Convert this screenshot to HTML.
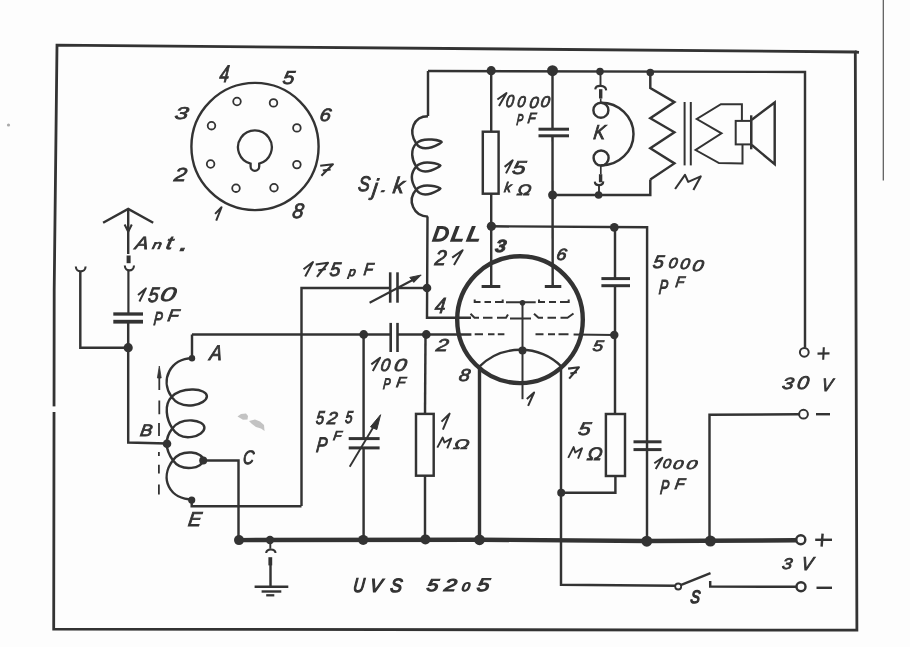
<!DOCTYPE html>
<html><head><meta charset="utf-8"><style>
html,body{margin:0;padding:0;background:#fdfdfd;}
svg{display:block;will-change:transform;}
text{font-family:"Liberation Sans",sans-serif;font-style:italic;fill:#333;stroke:#333;}
</style></head><body>
<svg width="910" height="647" viewBox="0 0 910 647">
<rect width="910" height="647" fill="#fdfdfd"/>
<polygon points="57.0,45.1 855.3,52.0 856.9,630.2 53.7,629.2 54.2,290.0" fill="none" stroke="#333" stroke-width="2.8" stroke-linejoin="miter"/>
<line x1="855" y1="52" x2="859" y2="52.3" stroke="#333" stroke-width="2.8" stroke-linecap="butt"/>
<rect x="50" y="406.4" width="8" height="5.6" fill="#fdfdfd"/>
<path d="M 237.5,416.5 L 241,414 L 246,413.5 L 248,416 L 247.5,419.5 L 243,419.8 Z" fill="#8a8a8a" opacity="0.5"/>
<path d="M 249,421 L 255,419.5 L 260,421.5 L 264,425 L 264.5,431 L 261,428.5 L 256,427 L 252,424 Z" fill="#8a8a8a" opacity="0.5"/>
<circle cx="8.5" cy="125" r="1.6" fill="#aaa"/>
<line x1="883.3" y1="0" x2="883.3" y2="180.6" stroke="#555" stroke-width="1.2" stroke-linecap="butt"/>
<polyline points="428.0,71.0 805.0,72.0 805.0,347.8" fill="none" stroke="#333" stroke-width="2.45" stroke-linejoin="miter"/>
<line x1="428" y1="71" x2="428" y2="116" stroke="#333" stroke-width="2.45" stroke-linecap="butt"/>
<path d="M 428.00,116.20 C 413.40,116.20 408.02,131.41 416.20,143.50 C 423.85,154.80 441.70,142.80 441.70,142.00 C 441.70,141.20 423.85,135.80 416.20,143.50 C 410.21,149.53 411.50,159.51 416.20,166.60 C 423.49,177.60 440.50,166.30 440.50,165.50 C 440.50,164.70 423.49,158.50 416.20,166.60 C 410.05,173.44 411.12,181.93 416.20,189.60 C 423.49,200.60 440.50,189.30 440.50,188.50 C 440.50,187.70 423.49,181.50 416.20,189.60 C 406.57,200.30 413.60,216.60 428.00,216.60" fill="none" stroke="#333" stroke-width="2.45" stroke-linecap="butt"/>
<polyline points="427.5,216.5 427.0,317.7 471.0,317.7" fill="none" stroke="#333" stroke-width="2.45" stroke-linejoin="miter"/>
<circle cx="427" cy="288" r="4.3" fill="#333"/>
<polyline points="301.5,506.0 301.5,288.0 390.2,288.0" fill="none" stroke="#333" stroke-width="2.45" stroke-linejoin="miter"/>
<line x1="397.5" y1="288" x2="427" y2="288" stroke="#333" stroke-width="2.45" stroke-linecap="butt"/>
<line x1="390.2" y1="272.3" x2="390.2" y2="302.7" stroke="#333" stroke-width="2.6" stroke-linecap="butt"/>
<line x1="397.5" y1="272.3" x2="397.5" y2="302.7" stroke="#333" stroke-width="2.6" stroke-linecap="butt"/>
<line x1="369.6" y1="302.7" x2="416" y2="278.2" stroke="#333" stroke-width="2.1" stroke-linecap="butt"/>
<path d="M 421.2,275 L 409.8,277.4 L 413.8,282.4 Z" fill="#333" stroke="#333" stroke-width="1" stroke-linecap="butt"/>
<circle cx="491.2" cy="70.7" r="4.6" fill="#333"/>
<line x1="491.2" y1="70.7" x2="491.2" y2="131.7" stroke="#333" stroke-width="2.45" stroke-linecap="butt"/>
<rect x="482.8" y="131.7" width="15.800000000000011" height="62.0" fill="none" stroke="#333" stroke-width="2.45"/>
<line x1="491.2" y1="193.7" x2="491.2" y2="226.3" stroke="#333" stroke-width="2.45" stroke-linecap="butt"/>
<circle cx="491.4" cy="226.3" r="4.6" fill="#333"/>
<polyline points="491.4,226.3 647.1,227.2 647.0,540.5" fill="none" stroke="#333" stroke-width="2.45" stroke-linejoin="miter"/>
<circle cx="614.3" cy="227.3" r="4.4" fill="#333"/>
<line x1="633.5" y1="441.8" x2="661.5" y2="441.8" stroke="#333" stroke-width="3.0" stroke-linecap="butt"/>
<line x1="633.5" y1="449.6" x2="661.5" y2="449.6" stroke="#333" stroke-width="3.0" stroke-linecap="butt"/>
<line x1="491.2" y1="226.3" x2="491.2" y2="286.5" stroke="#333" stroke-width="2.45" stroke-linecap="butt"/>
<line x1="481.6" y1="286.5" x2="500.3" y2="286.5" stroke="#333" stroke-width="3.0" stroke-linecap="butt"/>
<circle cx="552.5" cy="70.7" r="5.5" fill="#333"/>
<line x1="552.5" y1="70.7" x2="552.5" y2="129.2" stroke="#333" stroke-width="2.45" stroke-linecap="butt"/>
<line x1="538.5" y1="129.2" x2="569" y2="129.2" stroke="#333" stroke-width="3.0" stroke-linecap="butt"/>
<line x1="538.5" y1="135.8" x2="569" y2="135.8" stroke="#333" stroke-width="3.0" stroke-linecap="butt"/>
<line x1="552.5" y1="135.8" x2="552.7" y2="286.5" stroke="#333" stroke-width="2.45" stroke-linecap="butt"/>
<line x1="544.8" y1="286.5" x2="561.3" y2="286.5" stroke="#333" stroke-width="3.0" stroke-linecap="butt"/>
<circle cx="552.6" cy="195" r="4.5" fill="#333"/>
<polyline points="552.6,195.0 650.3,195.0 650.3,179.5" fill="none" stroke="#333" stroke-width="2.45" stroke-linejoin="miter"/>
<circle cx="600" cy="71.6" r="3.8" fill="#333"/>
<line x1="600.5" y1="71.6" x2="600.5" y2="85.5" stroke="#333" stroke-width="1.9" stroke-linecap="butt"/>
<path d="M 595.2,89.3 C 595.8,84.6 605.6,84.6 606.2,90.3" fill="none" stroke="#333" stroke-width="2.1" stroke-linecap="butt"/>
<line x1="600.7" y1="89.2" x2="600.7" y2="98.5" stroke="#333" stroke-width="3.4" stroke-linecap="butt"/>
<line x1="600.7" y1="98.5" x2="600.7" y2="102.7" stroke="#333" stroke-width="1.6" stroke-linecap="butt"/>
<circle cx="600.9" cy="110.2" r="7.5" fill="none" stroke="#333" stroke-width="2.45"/>
<path d="M 600.9,102.7 A 32.5,31.4 0 0 1 601.1,165.5" fill="none" stroke="#333" stroke-width="2.45" stroke-linecap="butt"/>
<circle cx="601.1" cy="158" r="7.5" fill="none" stroke="#333" stroke-width="2.45"/>
<line x1="600.8" y1="165.5" x2="600.8" y2="174.2" stroke="#333" stroke-width="1.7" stroke-linecap="butt"/>
<line x1="600.6" y1="174.2" x2="600.6" y2="182.3" stroke="#333" stroke-width="3.4" stroke-linecap="butt"/>
<path d="M 594.8,181.6 C 595,186.3 603.1,186.3 603.3,181.4" fill="none" stroke="#333" stroke-width="2.1" stroke-linecap="butt"/>
<line x1="599" y1="184.8" x2="599" y2="195" stroke="#333" stroke-width="1.9" stroke-linecap="butt"/>
<circle cx="598.6" cy="195" r="3.8" fill="#333"/>
<circle cx="650.3" cy="72.5" r="3.8" fill="#333"/>
<polyline points="650.3,72.5 650.3,88.0 674.4,102.1 650.3,118.2 674.4,132.3 650.3,148.3 674.4,163.4 650.3,179.5" fill="none" stroke="#333" stroke-width="2.45" stroke-linejoin="miter"/>
<line x1="684.6" y1="102" x2="684.6" y2="165.4" stroke="#333" stroke-width="2.0" stroke-linecap="butt"/>
<line x1="690.8" y1="102" x2="690.8" y2="165.4" stroke="#333" stroke-width="2.0" stroke-linecap="butt"/>
<polyline points="741.9,120.3 741.9,104.2 720.9,104.2 696.8,119.0 721.5,133.3 695.6,150.0 719.0,163.0 742.5,163.5 742.5,144.4" fill="none" stroke="#333" stroke-width="2.0" stroke-linejoin="miter"/>
<rect x="735.7" y="120.9" width="15.5" height="23.5" fill="none" stroke="#333" stroke-width="2.0"/>
<line x1="751.2" y1="115.3" x2="751.2" y2="149.3" stroke="#333" stroke-width="2.45" stroke-linecap="butt"/>
<polyline points="751.8,119.7 774.7,102.4 774.7,164.2 751.8,145.0" fill="none" stroke="#333" stroke-width="2.45" stroke-linejoin="miter"/>
<circle cx="804.3" cy="352.3" r="4.4" fill="none" stroke="#333" stroke-width="2.0"/>
<circle cx="803.5" cy="414.2" r="4.4" fill="none" stroke="#333" stroke-width="2.0"/>
<polyline points="799.0,414.2 709.5,414.8 709.5,540.5" fill="none" stroke="#333" stroke-width="2.45" stroke-linejoin="miter"/>
<ellipse cx="520" cy="319.7" rx="62.8" ry="63.4" fill="none" stroke="#333" stroke-width="4.4"/>
<path d="M 474.7,299.5 L 474.7,302.1 L 480.5,302.1 M 484.5,302.1 L 491,302.1 M 495,302.1 L 502.7,302.1 L 502.7,299.5 M 506,302.3 L 535.7,302.3 M 539,299.5 L 539,302.1 L 545,302.1 M 549,302.1 L 556,302.1 M 560,302.1 L 568.7,302.1 L 568.7,299.5" fill="none" stroke="#333" stroke-width="2.0" stroke-linecap="butt"/>
<circle cx="522.5" cy="302.8" r="2.8" fill="#333"/>
<path d="M 470.5,313.7 L 474.5,317.8 L 479,317.8 M 483,317.8 L 492.5,317.8 M 497,317.8 L 506,317.8 L 508,314.5 M 510,318.6 L 531,318.6 M 534,313.7 L 538.5,317.8 L 543,317.8 M 547.5,317.8 L 556,317.8 M 560.5,317.8 L 567.5,317.8 L 573.5,313.5" fill="none" stroke="#333" stroke-width="2.0" stroke-linecap="butt"/>
<polyline points="192.0,334.5 390.7,334.5" fill="none" stroke="#333" stroke-width="2.45" stroke-linejoin="miter"/>
<line x1="397.5" y1="334.5" x2="471.4" y2="334.4" stroke="#333" stroke-width="2.45" stroke-linecap="butt"/>
<path d="M 474.7,334.3 L 483,334.3 M 488,334.3 L 494.5,334.3 M 497.8,334.3 L 504.4,334.3 M 535.5,334.3 L 543.5,334.3 M 548,334.3 L 555,334.3 M 558.5,334.3 L 568.5,334.3 M 573.6,334.4 L 614.3,335" fill="none" stroke="#333" stroke-width="2.0" stroke-linecap="butt"/>
<circle cx="614.3" cy="335" r="4.2" fill="#333"/>
<line x1="390.7" y1="322.9" x2="390.7" y2="352" stroke="#333" stroke-width="2.6" stroke-linecap="butt"/>
<line x1="397.5" y1="322.9" x2="397.5" y2="352" stroke="#333" stroke-width="2.6" stroke-linecap="butt"/>
<circle cx="363.7" cy="334.5" r="4.4" fill="#333"/>
<circle cx="426.3" cy="334.5" r="4.4" fill="#333"/>
<line x1="522.5" y1="302.8" x2="522.5" y2="399.2" stroke="#333" stroke-width="2.0" stroke-linecap="butt"/>
<circle cx="522.5" cy="350.6" r="4.0" fill="#333"/>
<path d="M 478.8,367.1 A 58.7,58.7 0 0 1 562,367.1" fill="none" stroke="#333" stroke-width="2.4" stroke-linecap="butt"/>
<line x1="479.5" y1="367" x2="479.5" y2="540" stroke="#333" stroke-width="3.4" stroke-linecap="butt"/>
<polyline points="561.0,367.0 561.0,584.8 675.2,585.8" fill="none" stroke="#333" stroke-width="2.45" stroke-linejoin="miter"/>
<line x1="615" y1="227.3" x2="615" y2="278.6" stroke="#333" stroke-width="2.45" stroke-linecap="butt"/>
<line x1="601.4" y1="278.6" x2="630" y2="278.6" stroke="#333" stroke-width="3.0" stroke-linecap="butt"/>
<line x1="601.4" y1="285.7" x2="630" y2="285.7" stroke="#333" stroke-width="3.0" stroke-linecap="butt"/>
<line x1="615" y1="285.7" x2="615" y2="414" stroke="#333" stroke-width="2.45" stroke-linecap="butt"/>
<rect x="605.9" y="414" width="19.100000000000023" height="62" fill="none" stroke="#333" stroke-width="2.45"/>
<polyline points="615.4,476.0 615.4,492.7 561.2,492.7" fill="none" stroke="#333" stroke-width="2.45" stroke-linejoin="miter"/>
<circle cx="561.2" cy="492.7" r="4.0" fill="#333"/>
<line x1="425.5" y1="334.5" x2="425" y2="413.9" stroke="#333" stroke-width="2.45" stroke-linecap="butt"/>
<rect x="416" y="413.9" width="17.69999999999999" height="61.80000000000001" fill="none" stroke="#333" stroke-width="2.45"/>
<line x1="425" y1="475.7" x2="425" y2="539.5" stroke="#333" stroke-width="2.45" stroke-linecap="butt"/>
<line x1="363.6" y1="334.5" x2="363.6" y2="438.6" stroke="#333" stroke-width="2.45" stroke-linecap="butt"/>
<line x1="348.7" y1="438.6" x2="379.6" y2="438.6" stroke="#333" stroke-width="3.0" stroke-linecap="butt"/>
<line x1="348.7" y1="447.9" x2="379.6" y2="447.9" stroke="#333" stroke-width="3.0" stroke-linecap="butt"/>
<line x1="363.6" y1="447.9" x2="363.6" y2="539.7" stroke="#333" stroke-width="2.45" stroke-linecap="butt"/>
<line x1="349.7" y1="466.7" x2="377" y2="421" stroke="#333" stroke-width="1.9" stroke-linecap="butt"/>
<path d="M 380.6,414.7 L 370.5,426.8 L 376.8,429.6 Z" fill="#333" stroke="#333" stroke-width="1" stroke-linecap="butt"/>
<path d="M 238.5,540.1 L 480,539.7 L 646,541 L 796.3,540.3" fill="none" stroke="#333" stroke-width="4.4" stroke-linecap="butt"/>
<circle cx="800.8" cy="539.8" r="4.5" fill="none" stroke="#333" stroke-width="2.45"/>
<circle cx="239" cy="540.1" r="5.0" fill="#333"/>
<circle cx="270" cy="540" r="4.2" fill="#333"/>
<circle cx="363.2" cy="539.9" r="5.0" fill="#333"/>
<circle cx="425.4" cy="539.4" r="5.0" fill="#333"/>
<circle cx="479.5" cy="539.8" r="5.4" fill="#333"/>
<circle cx="646.8" cy="541.2" r="5.5" fill="#333"/>
<circle cx="710.4" cy="541" r="5.5" fill="#333"/>
<line x1="817.5" y1="353.6" x2="829.5" y2="353.4" stroke="#333" stroke-width="2.1" stroke-linecap="butt"/>
<line x1="823.8" y1="347.3" x2="823.2" y2="359.8" stroke="#333" stroke-width="2.1" stroke-linecap="butt"/>
<line x1="816" y1="414.2" x2="830" y2="414.2" stroke="#333" stroke-width="2.45" stroke-linecap="butt"/>
<line x1="815.2" y1="539.8" x2="832" y2="539.8" stroke="#333" stroke-width="2.45" stroke-linecap="butt"/>
<line x1="822.6" y1="533.6" x2="821.6" y2="546.6" stroke="#333" stroke-width="2.45" stroke-linecap="butt"/>
<line x1="816.5" y1="587.8" x2="832" y2="587.8" stroke="#333" stroke-width="2.45" stroke-linecap="butt"/>
<circle cx="678.2" cy="586.5" r="3.0" fill="none" stroke="#333" stroke-width="1.8"/>
<line x1="680.6" y1="585.2" x2="710.5" y2="573.2" stroke="#333" stroke-width="2.45" stroke-linecap="butt"/>
<polyline points="710.2,581.0 710.2,586.5 796.5,586.8" fill="none" stroke="#333" stroke-width="2.45" stroke-linejoin="miter"/>
<circle cx="801" cy="586.8" r="4.5" fill="none" stroke="#333" stroke-width="2.45"/>
<polyline points="103.1,222.8 128.2,208.9 153.2,222.8" fill="none" stroke="#333" stroke-width="2.45" stroke-linejoin="miter"/>
<line x1="128.2" y1="208.9" x2="128.2" y2="254" stroke="#333" stroke-width="2.45" stroke-linecap="butt"/>
<polyline points="124.6,224.5 128.2,231.7 131.8,224.5" fill="none" stroke="#333" stroke-width="2.0" stroke-linejoin="miter"/>
<line x1="128.6" y1="255.5" x2="128.6" y2="263.2" stroke="#333" stroke-width="4.0" stroke-linecap="butt"/>
<path d="M 124.8,265.5 C 125,272 133.8,272 134,265.5" fill="none" stroke="#333" stroke-width="2.1" stroke-linecap="butt"/>
<line x1="128.4" y1="271" x2="128.4" y2="314" stroke="#333" stroke-width="2.2" stroke-linecap="butt"/>
<line x1="113.3" y1="314" x2="143" y2="314" stroke="#333" stroke-width="3.3" stroke-linecap="butt"/>
<line x1="113.3" y1="321.7" x2="143" y2="321.7" stroke="#333" stroke-width="3.8" stroke-linecap="butt"/>
<polyline points="128.2,320.7 128.2,442.5 167.0,443.5" fill="none" stroke="#333" stroke-width="2.45" stroke-linejoin="miter"/>
<circle cx="128.2" cy="347.7" r="4.6" fill="#333"/>
<polyline points="128.2,347.7 80.3,347.7 80.3,272.0" fill="none" stroke="#333" stroke-width="2.45" stroke-linejoin="miter"/>
<path d="M 75.8,266.5 C 76,273 85.4,273 85.6,266.5" fill="none" stroke="#333" stroke-width="2.1" stroke-linecap="butt"/>
<path d="M 192.00,358.30 C 171.00,358.30 159.49,379.74 171.60,396.90 C 182.19,411.90 206.90,404.30 206.90,396.30 C 206.90,388.30 182.19,386.00 171.60,396.90 C 163.80,404.93 166.33,418.92 172.30,428.40 C 181.93,443.70 204.40,435.80 204.40,427.80 C 204.40,419.80 181.93,416.00 172.30,428.40 C 164.51,438.43 165.55,449.85 172.90,460.20 C 181.99,473.00 203.20,468.00 203.20,460.00 C 203.20,452.00 181.99,448.10 172.90,460.20 C 159.03,478.67 169.60,499.50 192.70,499.50" fill="none" stroke="#333" stroke-width="2.45" stroke-linecap="butt"/>
<circle cx="192" cy="358.3" r="3.2" fill="#333"/>
<polyline points="192.0,357.5 192.0,334.5 192.0,334.5" fill="none" stroke="#333" stroke-width="2.45" stroke-linejoin="miter"/>
<circle cx="167" cy="443.8" r="4.3" fill="#333"/>
<circle cx="203.2" cy="460.5" r="4.0" fill="#333"/>
<polyline points="203.2,460.5 238.5,460.5 238.5,540.2" fill="none" stroke="#333" stroke-width="2.45" stroke-linejoin="miter"/>
<circle cx="191.7" cy="500.1" r="3.6" fill="#333"/>
<polyline points="191.7,500.1 191.7,506.2 301.5,506.2" fill="none" stroke="#333" stroke-width="2.45" stroke-linejoin="miter"/>
<path d="M 159.3,377 L 159.3,390 M 159.3,400.6 L 159.3,414.2 M 159,422.9 L 159,435.9 M 158.9,452 L 158.9,456 M 158.9,464.8 L 158.9,473.5 M 158.9,484.6 L 158.9,494.5" fill="none" stroke="#333" stroke-width="1.8" stroke-linecap="butt"/>
<path d="M 159.3,366 L 161.2,378 L 157.4,378 Z" fill="#333" stroke="#333" stroke-width="0.8" stroke-linecap="butt"/>
<line x1="270.3" y1="540" x2="270.3" y2="548.8" stroke="#333" stroke-width="1.9" stroke-linecap="butt"/>
<path d="M 266.2,553 C 266.4,548.3 275.3,548.3 275.5,553" fill="none" stroke="#333" stroke-width="2.1" stroke-linecap="butt"/>
<line x1="270.3" y1="557.2" x2="270.3" y2="565.4" stroke="#333" stroke-width="3.8" stroke-linecap="butt"/>
<line x1="270.5" y1="565" x2="270.5" y2="586.8" stroke="#333" stroke-width="2.45" stroke-linecap="butt"/>
<line x1="254.6" y1="586.8" x2="288.3" y2="586.8" stroke="#333" stroke-width="2.5" stroke-linecap="butt"/>
<line x1="261.6" y1="591.5" x2="281.3" y2="591.5" stroke="#333" stroke-width="2.4" stroke-linecap="butt"/>
<line x1="266.2" y1="595.3" x2="274.3" y2="595.3" stroke="#333" stroke-width="2.3" stroke-linecap="butt"/>
<circle cx="255" cy="146.5" r="63.6" fill="none" stroke="#333" stroke-width="2.4"/>
<circle cx="237" cy="101.5" r="3.8" fill="none" stroke="#333" stroke-width="1.8"/>
<circle cx="273.5" cy="102.9" r="3.8" fill="none" stroke="#333" stroke-width="1.8"/>
<circle cx="211.5" cy="125.7" r="3.8" fill="none" stroke="#333" stroke-width="1.8"/>
<circle cx="296.9" cy="127.9" r="3.8" fill="none" stroke="#333" stroke-width="1.8"/>
<circle cx="210.6" cy="164" r="3.8" fill="none" stroke="#333" stroke-width="1.8"/>
<circle cx="296.9" cy="164.6" r="3.8" fill="none" stroke="#333" stroke-width="1.8"/>
<circle cx="236" cy="188.2" r="3.8" fill="none" stroke="#333" stroke-width="1.8"/>
<circle cx="274" cy="187.7" r="3.8" fill="none" stroke="#333" stroke-width="1.8"/>
<path d="M 259.2,163.6 A 16.9,16.9 0 1 0 250.6,163.6 L 250.6,166.5 A 4.3,4.3 0 0 0 259.2,166.5 Z" fill="none" stroke="#333" stroke-width="2.3" stroke-linecap="butt"/>
<polyline points="675.1,189.0 685.0,174.9 688.2,181.9 700.7,176.4 693.4,190.0" fill="none" stroke="#333" stroke-width="2.1" stroke-linejoin="round"/>
<polyline points="437.3,447.6 442.7,437.5 444.4,442.5 451.2,438.6 447.2,448.3" fill="none" stroke="#333" stroke-width="1.9" stroke-linejoin="round"/>
<polyline points="568.2,457.9 573.6,447.1 575.2,452.5 582.0,448.3 578.0,458.7" fill="none" stroke="#333" stroke-width="1.9" stroke-linejoin="round"/>
<polyline points="320.2,165.7 332.9,164.3 321.4,175.7" fill="none" stroke="#333" stroke-width="2.1" stroke-linejoin="round"/>
<polyline points="322.8,170.6 330.6,169.4" fill="none" stroke="#333" stroke-width="2.0" stroke-linejoin="miter"/>
<polyline points="215.1,213.9 221.5,207.3 216.2,220.6" fill="none" stroke="#333" stroke-width="2.0" stroke-linejoin="round"/>
<polyline points="497.4,99.5 506.5,93.0 499.0,106.1" fill="none" stroke="#333" stroke-width="2.0" stroke-linejoin="round"/>
<polyline points="504.6,166.9 512.7,160.3 506.0,173.4" fill="none" stroke="#333" stroke-width="2.0" stroke-linejoin="round"/>
<polyline points="452.2,257.6 462.6,250.2 454.0,265.0" fill="none" stroke="#333" stroke-width="2.0" stroke-linejoin="round"/>
<polyline points="303.5,269.2 313.0,262.0 305.2,276.5" fill="none" stroke="#333" stroke-width="2.0" stroke-linejoin="round"/>
<polyline points="315.7,264.5 328.0,262.8 316.9,276.9" fill="none" stroke="#333" stroke-width="2.1" stroke-linejoin="round"/>
<polyline points="318.2,270.6 325.8,269.1" fill="none" stroke="#333" stroke-width="2.0" stroke-linejoin="miter"/>
<polyline points="568.1,368.6 578.9,367.2 569.2,378.6" fill="none" stroke="#333" stroke-width="2.1" stroke-linejoin="round"/>
<polyline points="570.3,373.5 576.9,372.3" fill="none" stroke="#333" stroke-width="2.0" stroke-linejoin="miter"/>
<polyline points="526.8,399.1 534.1,392.5 528.1,405.8" fill="none" stroke="#333" stroke-width="2.0" stroke-linejoin="round"/>
<polyline points="138.0,294.9 145.9,288.4 139.4,301.5" fill="none" stroke="#333" stroke-width="2.0" stroke-linejoin="round"/>
<polyline points="371.3,364.4 380.1,357.7 372.8,371.1" fill="none" stroke="#333" stroke-width="2.0" stroke-linejoin="round"/>
<polyline points="441.5,421.6 449.6,413.6 442.9,429.6" fill="none" stroke="#333" stroke-width="2.0" stroke-linejoin="round"/>
<polyline points="654.3,463.3 662.4,457.7 655.7,468.9" fill="none" stroke="#333" stroke-width="2.0" stroke-linejoin="round"/>
<g opacity="0.999"><text transform="matrix(0.1716 0 0 0.2384 219.11 81.78) skewX(-8)" font-size="100" stroke-width="4.20">4</text>
<text transform="matrix(0.2090 0 0 0.1879 281.99 83.69) skewX(-8)" font-size="100" stroke-width="4.29">5</text>
<text transform="matrix(0.2412 0 0 0.1711 174.12 118.90) skewX(-8)" font-size="100" stroke-width="4.18">3</text>
<text transform="matrix(0.2009 0 0 0.1796 319.12 121.10) skewX(-8)" font-size="100" stroke-width="4.48">6</text>
<text transform="matrix(0.2218 0 0 0.1893 173.53 181.08) skewX(-8)" font-size="100" stroke-width="4.15">2</text>
<text transform="matrix(0.1991 0 0 0.2092 291.63 217.67) skewX(-8)" font-size="100" stroke-width="4.16">8</text>
<text transform="matrix(0.1772 0 0 0.2106 357.44 190.76) skewX(-8)" font-size="100" stroke-width="4.40">S</text>
<text transform="matrix(0.2219 0 0 0.2285 371.73 195.48) skewX(-8)" font-size="100" stroke-width="3.78">j</text>
<text transform="matrix(0.2654 0 0 0.1318 380.06 192.28) skewX(-8)" font-size="100" stroke-width="4.54">.</text>
<text transform="matrix(0.2212 0 0 0.2257 392.18 193.28) skewX(-8)" font-size="100" stroke-width="3.80">k</text>
<text transform="matrix(0.1464 0 0 0.1739 505.30 106.90) skewX(-8)" font-size="100" stroke-width="5.33">0</text>
<text transform="matrix(0.1464 0 0 0.1556 516.80 106.92) skewX(-8)" font-size="100" stroke-width="5.63">0</text>
<text transform="matrix(0.1645 0 0 0.1599 528.87 107.92) skewX(-8)" font-size="100" stroke-width="5.24">0</text>
<text transform="matrix(0.1645 0 0 0.1556 540.07 107.22) skewX(-8)" font-size="100" stroke-width="5.31">0</text>
<text transform="matrix(0.0964 0 0 0.1543 516.24 125.48) skewX(-8)" font-size="100" stroke-width="6.97">P</text>
<text transform="matrix(0.1299 0 0 0.1457 527.34 123.17) skewX(-8)" font-size="100" stroke-width="6.18">F</text>
<text transform="matrix(0.2369 0 0 0.1864 511.38 174.19) skewX(-8)" font-size="100" stroke-width="4.04">5</text>
<text transform="matrix(0.1381 0 0 0.1382 503.75 192.48) skewX(-8)" font-size="100" stroke-width="6.15">k</text>
<text transform="matrix(0.1838 0 0 0.1521 516.46 195.28) skewX(-8)" font-size="100" stroke-width="5.08">&#937;</text>
<text transform="matrix(0.1743 0 0 0.2007 592.90 139.27) skewX(-8)" font-size="100" stroke-width="4.54">K</text>
<text transform="matrix(0.2194 0 0 0.2072 431.99 241.05) skewX(-8)" font-size="100" stroke-width="7.03">D</text>
<text transform="matrix(0.2370 0 0 0.2072 450.24 241.05) skewX(-8)" font-size="100" stroke-width="6.77">L</text>
<text transform="matrix(0.2478 0 0 0.2072 466.01 241.05) skewX(-8)" font-size="100" stroke-width="6.62">L</text>
<text transform="matrix(0.2024 0 0 0.2136 434.32 265.07) skewX(-8)" font-size="100" stroke-width="4.09">2</text>
<text transform="matrix(0.1958 0 0 0.1754 494.54 252.00) skewX(-8)" font-size="100" font-weight="bold" stroke-width="4.59">3</text>
<text transform="matrix(0.1809 0 0 0.1627 555.78 259.61) skewX(-8)" font-size="100" stroke-width="4.95">6</text>
<text transform="matrix(0.1959 0 0 0.1807 652.34 268.29) skewX(-8)" font-size="100" stroke-width="4.52">5</text>
<text transform="matrix(0.1591 0 0 0.1458 667.91 267.93) skewX(-8)" font-size="100" stroke-width="5.58">0</text>
<text transform="matrix(0.1736 0 0 0.1514 679.41 269.12) skewX(-8)" font-size="100" stroke-width="5.24">0</text>
<text transform="matrix(0.2027 0 0 0.1570 691.51 270.72) skewX(-8)" font-size="100" stroke-width="4.76">0</text>
<text transform="matrix(0.1321 0 0 0.2051 658.53 293.97) skewX(-8)" font-size="100" stroke-width="5.16">P</text>
<text transform="matrix(0.1437 0 0 0.1500 675.09 287.47) skewX(-8)" font-size="100" stroke-width="5.79">F</text>
<text transform="matrix(0.1926 0 0 0.1950 328.95 276.38) skewX(-8)" font-size="100" stroke-width="4.39">5</text>
<text transform="matrix(0.1294 0 0 0.1260 348.07 276.23) skewX(-8)" font-size="100" stroke-width="6.66">p</text>
<text transform="matrix(0.1507 0 0 0.1703 363.37 275.18) skewX(-8)" font-size="100" stroke-width="5.31">F</text>
<text transform="matrix(0.1888 0 0 0.2181 434.36 312.88) skewX(-8)" font-size="100" stroke-width="4.19">4</text>
<text transform="matrix(0.2169 0 0 0.1721 435.43 350.97) skewX(-8)" font-size="100" stroke-width="4.40">2</text>
<text transform="matrix(0.1877 0 0 0.1507 592.07 351.12) skewX(-8)" font-size="100" stroke-width="5.05">5</text>
<text transform="matrix(0.1974 0 0 0.1739 458.24 381.00) skewX(-8)" font-size="100" stroke-width="4.59">8</text>
<text transform="matrix(0.1977 0 0 0.1775 134.51 248.88) skewX(-8)" font-size="100" stroke-width="4.54">A</text>
<text transform="matrix(0.1682 0 0 0.1269 151.69 248.88) skewX(-8)" font-size="100" stroke-width="5.82">n</text>
<text transform="matrix(0.2391 0 0 0.1856 165.29 249.49) skewX(-8)" font-size="100" stroke-width="4.04">t</text>
<text transform="matrix(0.3500 0 0 0.2682 178.53 251.18) skewX(-8)" font-size="100" stroke-width="2.77">.</text>
<text transform="matrix(0.1893 0 0 0.2093 147.47 302.07) skewX(-8)" font-size="100" stroke-width="4.27">5</text>
<text transform="matrix(0.2809 0 0 0.1951 159.36 301.28) skewX(-8)" font-size="100" stroke-width="3.63">0</text>
<text transform="matrix(0.1307 0 0 0.1891 153.23 324.68) skewX(-8)" font-size="100" stroke-width="5.41">P</text>
<text transform="matrix(0.1813 0 0 0.1659 166.98 320.77) skewX(-8)" font-size="100" stroke-width="4.90">F</text>
<text transform="matrix(0.1856 0 0 0.2123 209.05 360.47) skewX(-8)" font-size="100" stroke-width="4.28">A</text>
<text transform="matrix(0.1816 0 0 0.1659 139.48 436.18) skewX(-8)" font-size="100" stroke-width="4.90">B</text>
<text transform="matrix(0.1514 0 0 0.1951 242.46 464.08) skewX(-8)" font-size="100" stroke-width="4.95">C</text>
<text transform="matrix(0.1980 0 0 0.2007 187.53 526.17) skewX(-8)" font-size="100" stroke-width="4.26">E</text>
<text transform="matrix(0.1700 0 0 0.1754 380.04 370.60) skewX(-8)" font-size="100" stroke-width="4.92">0</text>
<text transform="matrix(0.2245 0 0 0.1754 393.25 370.60) skewX(-8)" font-size="100" stroke-width="4.28">0</text>
<text transform="matrix(0.1079 0 0 0.1543 382.70 388.68) skewX(-8)" font-size="100" stroke-width="6.59">P</text>
<text transform="matrix(0.1507 0 0 0.1442 395.87 386.77) skewX(-8)" font-size="100" stroke-width="5.77">F</text>
<text transform="matrix(0.1451 0 0 0.1850 315.54 424.09) skewX(-8)" font-size="100" stroke-width="5.19">5</text>
<text transform="matrix(0.1831 0 0 0.1736 326.62 424.27) skewX(-8)" font-size="100" stroke-width="4.77">2</text>
<text transform="matrix(0.1320 0 0 0.1721 344.80 423.20) skewX(-8)" font-size="100" stroke-width="5.64">5</text>
<text transform="matrix(0.1621 0 0 0.2109 315.64 451.77) skewX(-8)" font-size="100" stroke-width="4.60">P</text>
<text transform="matrix(0.1354 0 0 0.1297 332.72 440.47) skewX(-8)" font-size="100" stroke-width="6.41">F</text>
<text transform="matrix(0.2032 0 0 0.1393 453.02 448.77) skewX(-8)" font-size="100" stroke-width="5.05">&#937;</text>
<text transform="matrix(0.2221 0 0 0.1821 577.44 434.79) skewX(-8)" font-size="100" stroke-width="4.23">5</text>
<text transform="matrix(0.1981 0 0 0.1821 586.43 459.68) skewX(-8)" font-size="100" stroke-width="4.48">&#937;</text>
<text transform="matrix(0.1464 0 0 0.1289 662.20 468.35) skewX(-8)" font-size="100" stroke-width="6.19">0</text>
<text transform="matrix(0.1827 0 0 0.1289 672.35 468.75) skewX(-8)" font-size="100" stroke-width="5.54">0</text>
<text transform="matrix(0.1955 0 0 0.1289 685.46 469.15) skewX(-8)" font-size="100" stroke-width="5.36">0</text>
<text transform="matrix(0.1307 0 0 0.2007 659.73 494.07) skewX(-8)" font-size="100" stroke-width="5.25">P</text>
<text transform="matrix(0.1604 0 0 0.1514 674.34 488.68) skewX(-8)" font-size="100" stroke-width="5.45">F</text>
<text transform="matrix(0.2044 0 0 0.1627 781.60 388.61) skewX(-8)" font-size="100" stroke-width="4.66">3</text>
<text transform="matrix(0.2118 0 0 0.1824 796.24 389.29) skewX(-8)" font-size="100" stroke-width="4.32">0</text>
<text transform="matrix(0.1659 0 0 0.1775 821.04 390.77) skewX(-8)" font-size="100" stroke-width="4.95">V</text>
<text transform="matrix(0.1798 0 0 0.1542 781.43 568.92) skewX(-8)" font-size="100" stroke-width="5.10">3</text>
<text transform="matrix(0.1750 0 0 0.1862 800.77 570.27) skewX(-8)" font-size="100" stroke-width="4.71">V</text>
<text transform="matrix(0.1426 0 0 0.1789 689.99 602.52) skewX(-8)" font-size="100" stroke-width="7.51">S</text>
<text transform="matrix(0.1542 0 0 0.1957 352.86 591.50) skewX(-8)" font-size="100" stroke-width="6.91">U</text>
<text transform="matrix(0.1818 0 0 0.1870 369.23 591.70) skewX(-8)" font-size="100" stroke-width="6.51">V</text>
<text transform="matrix(0.1765 0 0 0.1930 389.72 591.51) skewX(-8)" font-size="100" stroke-width="6.50">S</text>
<text transform="matrix(0.2098 0 0 0.1714 426.06 590.63) skewX(-8)" font-size="100" stroke-width="6.33">5</text>
<text transform="matrix(0.2194 0 0 0.1714 443.40 590.80) skewX(-8)" font-size="100" stroke-width="6.19">2</text>
<text transform="matrix(0.1436 0 0 0.1225 461.29 590.68) skewX(-8)" font-size="100" stroke-width="9.05">0</text>
<text transform="matrix(0.2230 0 0 0.1829 476.31 590.62) skewX(-8)" font-size="100" stroke-width="5.94">5</text></g>
</svg></body></html>
